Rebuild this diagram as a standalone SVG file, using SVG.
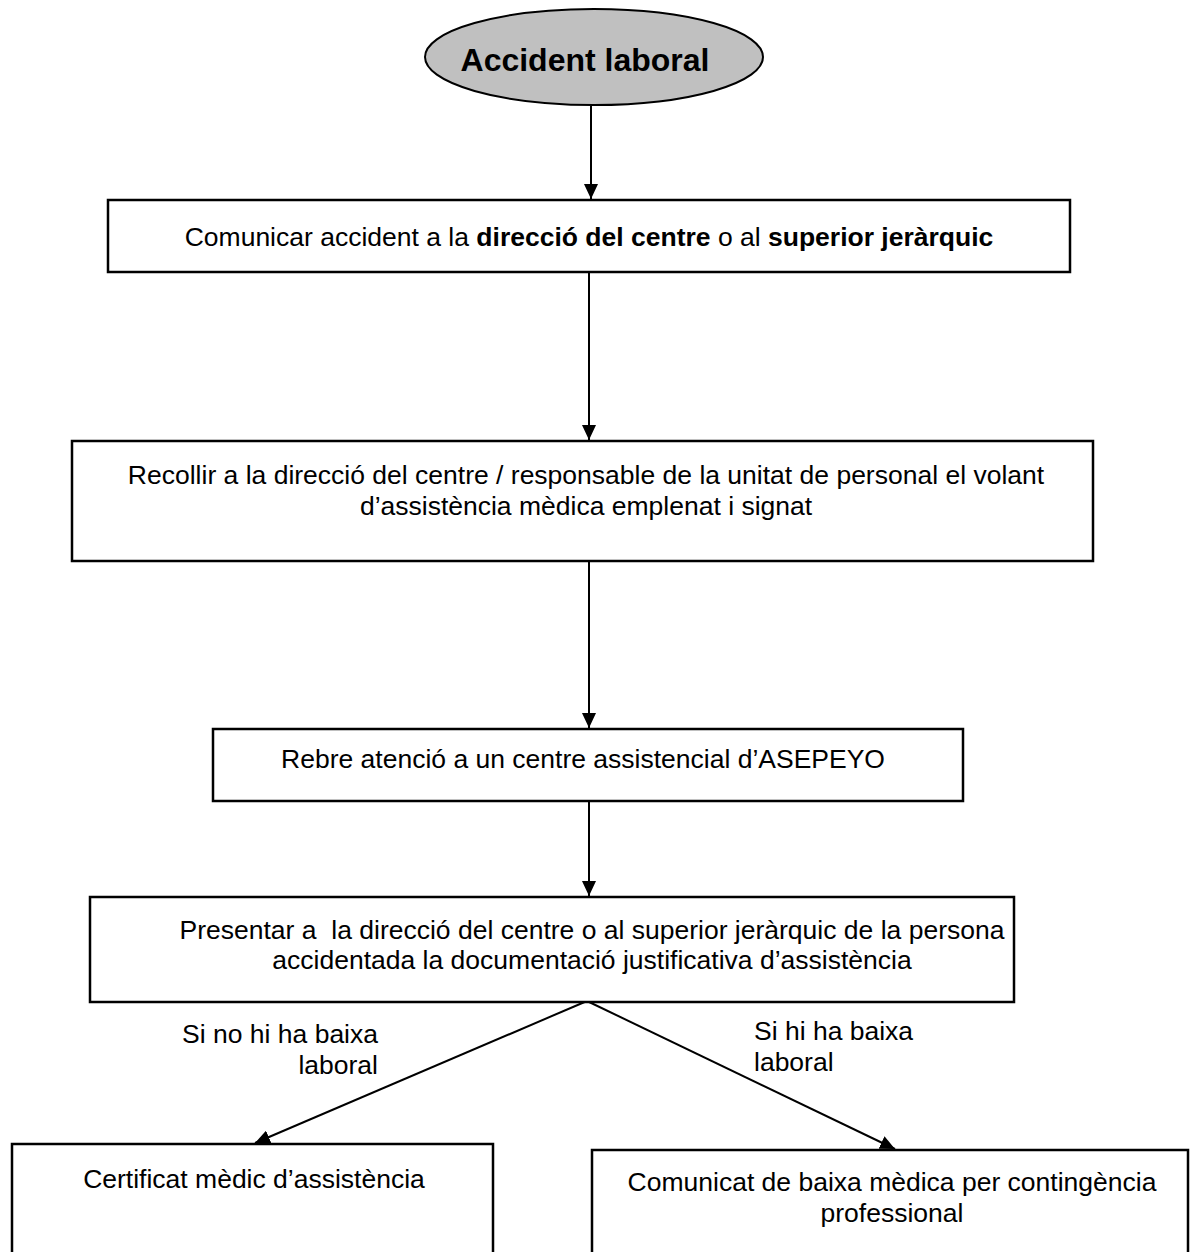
<svg xmlns="http://www.w3.org/2000/svg" width="1191" height="1252" viewBox="0 0 1191 1252">
<style>
.box{fill:#fff;stroke:#000;stroke-width:2.5}
.t{font-family:"Liberation Sans",Arial,sans-serif;font-size:26.5px;fill:#000}
.c{text-anchor:middle}
.b{font-weight:bold}
.ln{stroke:#000;stroke-width:2;fill:none;marker-end:url(#ah)}
</style>
<defs>
<marker id="ah" viewBox="0 0 15 14" refX="15" refY="7" markerWidth="15" markerHeight="14" markerUnits="userSpaceOnUse" orient="auto">
<path d="M0,0 L15,7 L0,14 Z" fill="#000"/>
</marker>
</defs>
<rect width="1191" height="1252" fill="#fff"/>
<g id="connectors">
<line class="ln" x1="591" y1="106" x2="591" y2="199"/>
<line class="ln" x1="589" y1="272" x2="589" y2="440"/>
<line class="ln" x1="589" y1="561" x2="589" y2="728"/>
<line class="ln" x1="589" y1="801" x2="589" y2="896"/>
<line class="ln" x1="587" y1="1001" x2="255" y2="1143"/>
<line class="ln" x1="587" y1="1001" x2="895" y2="1149"/>
</g>
<g id="start">
<ellipse cx="594" cy="57" rx="169" ry="48" fill="#c0c0c0" stroke="#000" stroke-width="2"/>
<text class="t b c" x="585" y="71" style="font-size:32px">Accident laboral</text>
</g>
<g id="comunicar">
<rect class="box" x="108" y="200" width="962" height="72"/>
<text class="t c" x="589" y="246">Comunicar accident a la <tspan class="b">direcció del centre</tspan> o al <tspan class="b">superior jeràrquic</tspan></text>
</g>
<g id="recollir">
<rect class="box" x="72" y="441" width="1021" height="120"/>
<text class="t c" x="586" y="484">Recollir a la direcció del centre / responsable de la unitat de personal el volant</text>
<text class="t c" x="586" y="515">d’assistència mèdica emplenat i signat</text>
</g>
<g id="rebre">
<rect class="box" x="213" y="729" width="750" height="72"/>
<text class="t c" x="583" y="768">Rebre atenció a un centre assistencial d’ASEPEYO</text>
</g>
<g id="presentar">
<rect class="box" x="90" y="897" width="924" height="105"/>
<text class="t c" x="592" y="939" xml:space="preserve">Presentar a  la direcció del centre o al superior jeràrquic de la persona</text>
<text class="t c" x="592" y="969">accidentada la documentació justificativa d’assistència</text>
</g>
<g id="label-no">
<text class="t" x="378" y="1043" text-anchor="end">Si no hi ha baixa</text>
<text class="t" x="378" y="1074" text-anchor="end">laboral</text>
</g>
<g id="label-si">
<text class="t" x="754" y="1040">Si hi ha baixa</text>
<text class="t" x="754" y="1071">laboral</text>
</g>
<g id="certificat">
<rect class="box" x="12" y="1144" width="481" height="130"/>
<text class="t c" x="254" y="1188">Certificat mèdic d’assistència</text>
</g>
<g id="comunicat">
<rect class="box" x="592" y="1150" width="596" height="130"/>
<text class="t c" x="892" y="1191">Comunicat de baixa mèdica per contingència</text>
<text class="t c" x="892" y="1222">professional</text>
</g>
</svg>
